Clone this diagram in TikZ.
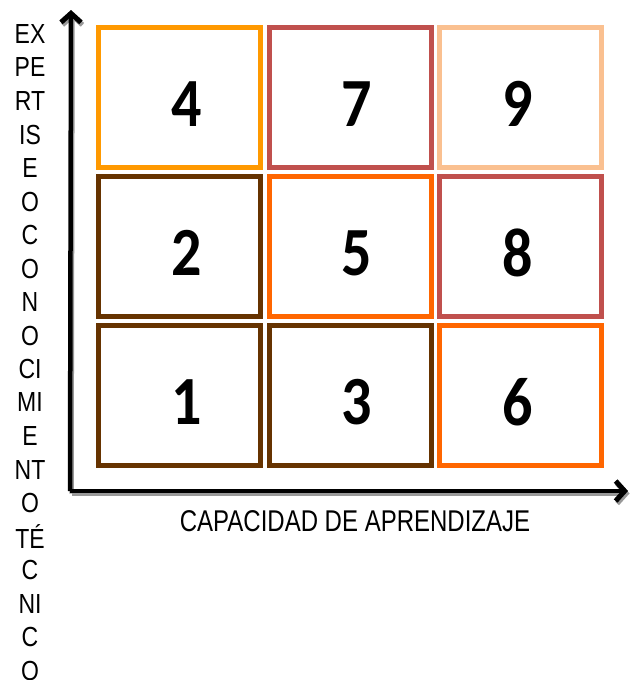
\documentclass[tikz,border=0pt]{standalone}
\usepackage{fontspec}
\setmainfont{Liberation Sans}
\newfontfamily\numfont{Carlito}
\usetikzlibrary{arrows.meta}
\definecolor{cellorange}{HTML}{FF9900}
\definecolor{cellred}{HTML}{C0504D}
\definecolor{cellpeach}{HTML}{FAC090}
\definecolor{cellbrown}{HTML}{663300}
\definecolor{celldeep}{HTML}{FF6600}

\begin{document}
\begin{tikzpicture}[x=1pt,y=-1pt,
  digit/.style={inner sep=0pt,yshift=-6.5pt,font=\numfont\bfseries\fontsize{60}{60}\selectfont},
  cell/.style n args={3}{draw=#1,line width=5pt,minimum width=162pt,minimum height=140pt,inner sep=0pt,
    label={[digit,xshift=#3]center:\scalebox{1}[1.15]{#2}}},
  axis/.style={line width=4.5pt,black,-{Straight Barb[length=9pt,width=20pt,line width=5pt]}},
  axisshadow/.style={line width=4.5pt,black!40,-{Straight Barb[length=9pt,width=20pt,line width=5pt]},transform canvas={shift={(1.5pt,-2.5pt)}}},
  axlabel/.style={font=\fontsize{24}{24}\selectfont,inner sep=0pt}
]
\useasboundingbox (0,0) rectangle (630,680);

\node[cell={cellorange}{4}{7pt}] (c4) at (179.3,97.5) {};
\node[cell={cellred}{7}{7pt}] (c7) at (350,97.5) {};
\node[cell={cellpeach}{9}{-3pt}] (c9) at (520.8,97.5) {};
\node[cell={cellbrown}{2}{7pt}] (c2) at (179.3,246.5) {};
\node[cell={celldeep}{5}{7pt}] (c5) at (350,246.5) {};
\node[cell={cellred}{8}{-3pt}] (c8) at (520.8,246.5) {};
\node[cell={cellbrown}{1}{7pt}] (c1) at (179.3,395.5) {};
\node[cell={cellbrown}{3}{7pt}] (c3) at (350,395.5) {};
\node[cell={celldeep}{6}{-3pt}] (c6) at (520.8,395.5) {};

\coordinate (origin) at (70,491);
\coordinate (ytip) at (71,10);
\coordinate (xtip) at (628,491);
\draw[axisshadow] (origin) -- (ytip);
\draw[axisshadow] (origin) -- (xtip);
\draw[axis] (origin) -- (ytip);
\draw[axis] (origin) -- (xtip);

\node[axlabel] (xlab) at (355,521) {\scalebox{1}[1.25]{CAPACIDAD DE APRENDIZAJE}};
\foreach \s [count=\i from 0] in {EX,PE,RT,IS,E,O,C,O,N,O,CI,MI,E,NT,O,TÉ,C,NI,C,O}
  \node[axlabel,font=\fontsize{23}{23}\selectfont] (syl\i) at (30,34+33.5*\i) {\scalebox{1}[1.2]{\s}};
\end{tikzpicture}
\end{document}
